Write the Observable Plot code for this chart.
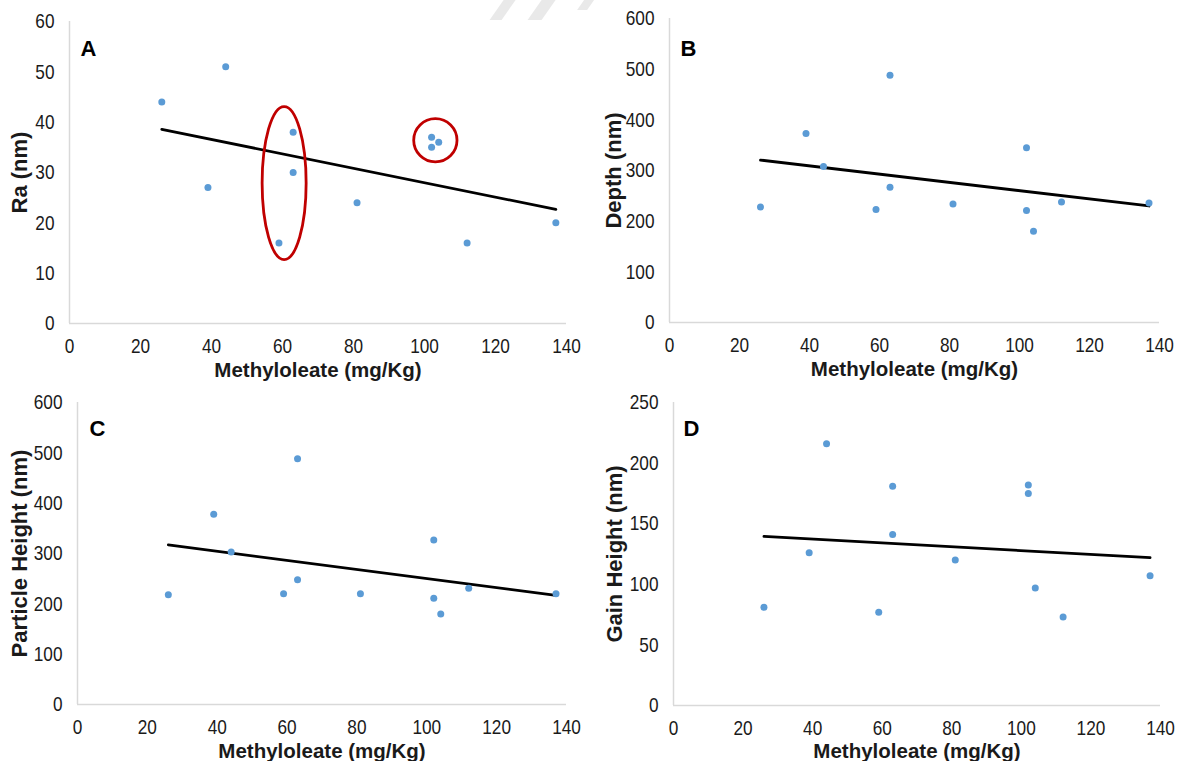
<!DOCTYPE html>
<html>
<head>
<meta charset="utf-8">
<script src="https://cdn.jsdelivr.net/npm/d3@7"></script>
<script src="https://cdn.jsdelivr.net/npm/@observablehq/plot@0.6"></script>
<style>
  html, body { margin: 0; padding: 0; background: #fff; }
  #root { position: relative; width: 1180px; height: 761px; overflow: hidden; background: #fff; }
  .panel { position: absolute; }
  .wm { position: absolute; top: -4px; height: 24px; background: #e9e9e9; transform: skewX(-35deg); }
</style>
</head>
<body>
<div id="root">
  <div class="wm" style="left:498px;width:12px;"></div>
  <div class="wm" style="left:536px;width:14px;"></div>
  <div class="wm" style="left:582px;width:10px;height:14px;"></div>
</div>
<script>
// ---- data ----
const methyloleate = [26, 39, 44, 59, 63, 63, 81, 102, 102, 104, 112, 137];
const raValues       = [44, 27, 51, 16, 38, 30, 24, 37, 35, 36, 16, 20];
const depthValues    = [228, 373, 308, 223, 488, 267, 234, 345, 221, 180, 238, 236];
const particleValues = [218, 378, 303, 220, 488, 248, 220, 327, 211, 180, 231, 220];
const gainValues     = [81, 126, 216, 77, 181, 141, 120, 182, 175, 97, 73, 107];

const xTicks = [0, 20, 40, 60, 80, 100, 120, 140];
const raTicks = [0, 10, 20, 30, 40, 50, 60];
const depthTicks = [0, 100, 200, 300, 400, 500, 600];
const particleTicks = [0, 100, 200, 300, 400, 500, 600];
const gainTicks = [0, 50, 100, 150, 200, 250];

const panelLetters = ["A", "B", "C", "D"];
const xTitle = "Methyloleate (mg/Kg)";
const yTitles = ["Ra (nm)", "Depth (nm)", "Particle Height (nm)", "Gain Height (nm)"];

// highlight annotations in panel A (data units)
const highlightCx = [60.6, 103.2];
const highlightCy = [27.8, 36.3];
const highlightRx = [6.2, 6.1];
const highlightRy = [15.2, 4.3];

// ---- font detection ----
function fontAvailable(name) {
  const c = document.createElement("canvas").getContext("2d");
  c.font = "40px monospace";
  const w1 = c.measureText("140 Wg").width;
  c.font = `40px "${name}", monospace`;
  return c.measureText("140 Wg").width !== w1;
}
const narrow = fontAvailable("Liberation Sans Narrow");
const tickFont = narrow ? '"Liberation Sans Narrow", "Liberation Sans", Arial, sans-serif' : '"Liberation Sans", Arial, sans-serif';

const root = document.getElementById("root");

function panel(cfg) {
  const data = methyloleate.map((x, i) => ({x, y: cfg.values[i]}));
  const chart = Plot.plot({
    width: 590,
    height: cfg.height,
    marginLeft: cfg.ml, marginRight: cfg.mr, marginTop: cfg.mt, marginBottom: cfg.mb,
    style: {fontFamily: '"Liberation Sans", Arial, sans-serif', color: "#1a1a1a", background: "transparent", overflow: "visible"},
    x: {domain: [0, 140]},
    y: {domain: [0, cfg.ticks[cfg.ticks.length - 1]]},
    marks: [
      Plot.ruleY([0], {stroke: "#d9d9d9", strokeWidth: 1.5}),
      Plot.ruleX([0], {stroke: "#d9d9d9", strokeWidth: 1.5}),
      Plot.axisX({ticks: xTicks, tickSize: 0, tickPadding: 15, label: null, fontSize: 21, fontFamily: tickFont, fill: "#1a1a1a"}),
      Plot.axisY({ticks: cfg.ticks, tickSize: 0, tickPadding: 15, label: null, fontSize: 21, fontFamily: tickFont, fill: "#1a1a1a"}),
      Plot.linearRegressionY(data, {x: "x", y: "y", ci: 0, stroke: "#000", strokeWidth: 2.8}),
      Plot.dot(data, {x: "x", y: "y", r: 3.5, fill: "#5b9bd5", stroke: "none"}),
      Plot.text([cfg.letter], {frameAnchor: "top-left", text: d => d, textAnchor: "start", lineAnchor: "middle",
        dx: cfg.ldx, dy: cfg.ldy, fontSize: 22, fontWeight: "bold", fill: "#000"}),
      Plot.text([xTitle], {frameAnchor: "bottom", text: d => d, textAnchor: "middle", lineAnchor: "middle",
        dy: cfg.xdy, fontSize: 20.5, fontWeight: "bold", fill: "#1a1a1a"}),
      Plot.text([cfg.yTitle], {frameAnchor: "left", text: d => d, textAnchor: "middle", lineAnchor: "middle",
        rotate: -90, dx: cfg.ydx, fontSize: 22, fontWeight: "bold", fill: "#1a1a1a"})
    ]
  });
  const wrap = document.createElement("div");
  wrap.className = "panel";
  wrap.style.left = cfg.left + "px";
  wrap.style.top = cfg.top + "px";
  wrap.appendChild(chart);
  root.appendChild(wrap);
  if (!narrow) {
    d3.select(chart).selectAll('g[aria-label="x-axis tick label"] text, g[aria-label="y-axis tick label"] text').each(function () {
      const len = this.getComputedTextLength();
      this.setAttribute("textLength", (len * 0.82).toFixed(2));
      this.setAttribute("lengthAdjust", "spacingAndGlyphs");
    });
  }
  return chart;
}

const chartA = panel({values: raValues, ticks: raTicks, letter: panelLetters[0], yTitle: yTitles[0],
  left: 0, top: 0, height: 380, ml: 69, mr: 24, mt: 21, mb: 57, ldx: 11, ldy: 27, xdy: 47, ydx: -50});
panel({values: depthValues, ticks: depthTicks, letter: panelLetters[1], yTitle: yTitles[1],
  left: 590, top: 0, height: 380, ml: 79, mr: 21, mt: 18, mb: 58, ldx: 11, ldy: 30, xdy: 47, ydx: -56});
panel({values: particleValues, ticks: particleTicks, letter: panelLetters[2], yTitle: yTitles[2],
  left: 0, top: 380, height: 381, ml: 77, mr: 24, mt: 22, mb: 57, ldx: 12, ldy: 26, xdy: 47, ydx: -58});
panel({values: gainValues, ticks: gainTicks, letter: panelLetters[3], yTitle: yTitles[3],
  left: 590, top: 380, height: 381, ml: 83, mr: 20, mt: 22, mb: 56, ldx: 10, ldy: 26, xdy: 46, ydx: -59});

// red highlight ellipses in panel A, placed with the chart's own scales
const sx = chartA.scale("x"), sy = chartA.scale("y");
const hl = d3.select(chartA).append("g").attr("aria-label", "highlight");
highlightCx.forEach((cx, i) => {
  const px = sx.apply(cx), py = sy.apply(highlightCy[i]);
  hl.append("ellipse")
    .attr("cx", px).attr("cy", py)
    .attr("rx", Math.abs(sx.apply(cx + highlightRx[i]) - px))
    .attr("ry", Math.abs(sy.apply(highlightCy[i] - highlightRy[i]) - py))
    .attr("fill", "none").attr("stroke", "#c00000").attr("stroke-width", 2.8);
});
</script>
</body>
</html>
